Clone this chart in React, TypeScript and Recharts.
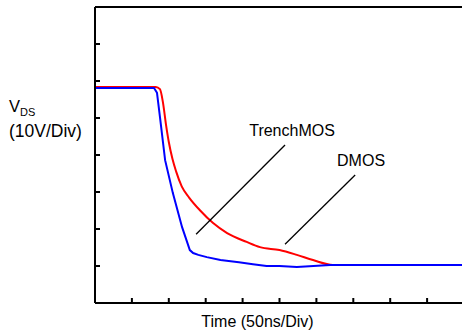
import { LineChart, Line, XAxis, YAxis, ReferenceLine, ReferenceDot, Label } from "recharts";

// time in divisions (50ns/div), voltage in divisions (10V/div)
const blueT = [0, 1.6, 1.68, 1.76, 1.9, 2.11, 2.36, 2.57, 2.66, 2.8, 3.03, 3.4, 3.9, 4.28, 4.65, 5.0, 5.47, 6.37, 10];
const blueV = [5.81, 5.81, 5.68, 5.03, 3.86, 2.97, 2.05, 1.43, 1.35, 1.3, 1.24, 1.16, 1.1, 1.05, 1.0, 1.0, 0.97, 1.03, 1.03];
const redT = [0, 1.65, 1.76, 1.84, 1.93, 2.0, 2.1, 2.2, 2.35, 2.55, 2.85, 3.2, 3.58, 4.11, 4.47, 5.0, 5.47, 5.91, 6.45, 10];
const redV = [5.84, 5.84, 5.78, 5.43, 4.78, 4.35, 3.89, 3.55, 3.15, 2.85, 2.5, 2.16, 1.89, 1.65, 1.51, 1.43, 1.3, 1.16, 1.03, 1.03];

const xTicks = [0, 1, 2, 3, 4, 5, 6, 7, 8, 9, 10];
const yTicks = [0, 1, 2, 3, 4, 5, 6, 7, 8];

const blue = blueT.map((t, i) => ({ t, v: blueV[i] }));
const red = redT.map((t, i) => ({ t, v: redV[i] }));

const font = "'Liberation Sans', Arial, sans-serif";

const VdsLabel = (props: any) => {
  const vb = props.viewBox;
  return (
    <g fontFamily={font} fill="#000">
      <text x={vb.x + 9} y={112} fontSize={16.5}>
        V<tspan dy={4} fontSize={11}>DS</tspan>
      </text>
      <text x={vb.x + 9} y={137} fontSize={17.5}>
        (10V/Div)
      </text>
    </g>
  );
};

const axisStyle = { stroke: "#000", strokeWidth: 2 };

export default function App() {
  return (
    <div style={{ position: "absolute", left: 0, top: 0, width: 462, height: 331, overflow: "hidden", background: "#fff" }}>
      <LineChart width={466} height={331} margin={{ top: 6, right: 0, bottom: 0, left: 0 }} style={{ fontFamily: font }}>
        <XAxis
          dataKey="t"
          type="number"
          domain={[0, 10]}
          ticks={xTicks}
          height={28}
          tickSize={-5}
          tickFormatter={() => ""}
          axisLine={axisStyle}
          tickLine={axisStyle}
        >
          <Label value="Time (50ns/Div)" position="insideBottom" offset={4} dx={-22} fill="#000" fontSize={16} />
        </XAxis>
        <XAxis
          xAxisId="top"
          orientation="top"
          dataKey="t"
          type="number"
          domain={[0, 10]}
          ticks={xTicks}
          height={1}
          tickSize={-5}
          tickFormatter={() => ""}
          axisLine={axisStyle}
          tickLine={axisStyle}
        />
        <YAxis
          type="number"
          domain={[0, 8]}
          ticks={yTicks}
          width={95}
          tickSize={-5}
          tickFormatter={() => ""}
          axisLine={axisStyle}
          tickLine={axisStyle}
        >
          <Label content={VdsLabel} />
        </YAxis>
        <YAxis
          yAxisId="right"
          orientation="right"
          type="number"
          domain={[0, 8]}
          ticks={yTicks}
          width={2}
          tickSize={-4}
          tickFormatter={() => ""}
          axisLine={false}
          tickLine={axisStyle}
        />
        <Line data={red} dataKey="v" type="monotone" stroke="#ff0000" strokeWidth={2} dot={false} isAnimationActive={false} />
        <Line data={blue} dataKey="v" type="linear" stroke="#0000ff" strokeWidth={2} dot={false} isAnimationActive={false} />
        <ReferenceLine segment={[{ x: 2.74, y: 1.86 }, { x: 5.15, y: 4.27 }]} stroke="#000" strokeWidth={1.3} />
        <ReferenceLine segment={[{ x: 5.15, y: 1.59 }, { x: 7.05, y: 3.46 }]} stroke="#000" strokeWidth={1.3} />
        <ReferenceDot x={5.34} y={4.68} r={0} fill="none" stroke="none">
          <Label value="TrenchMOS" position="center" fill="#000" fontSize={16} />
        </ReferenceDot>
        <ReferenceDot x={7.21} y={3.86} r={0} fill="none" stroke="none">
          <Label value="DMOS" position="center" fill="#000" fontSize={16} />
        </ReferenceDot>
      </LineChart>
    </div>
  );
}
